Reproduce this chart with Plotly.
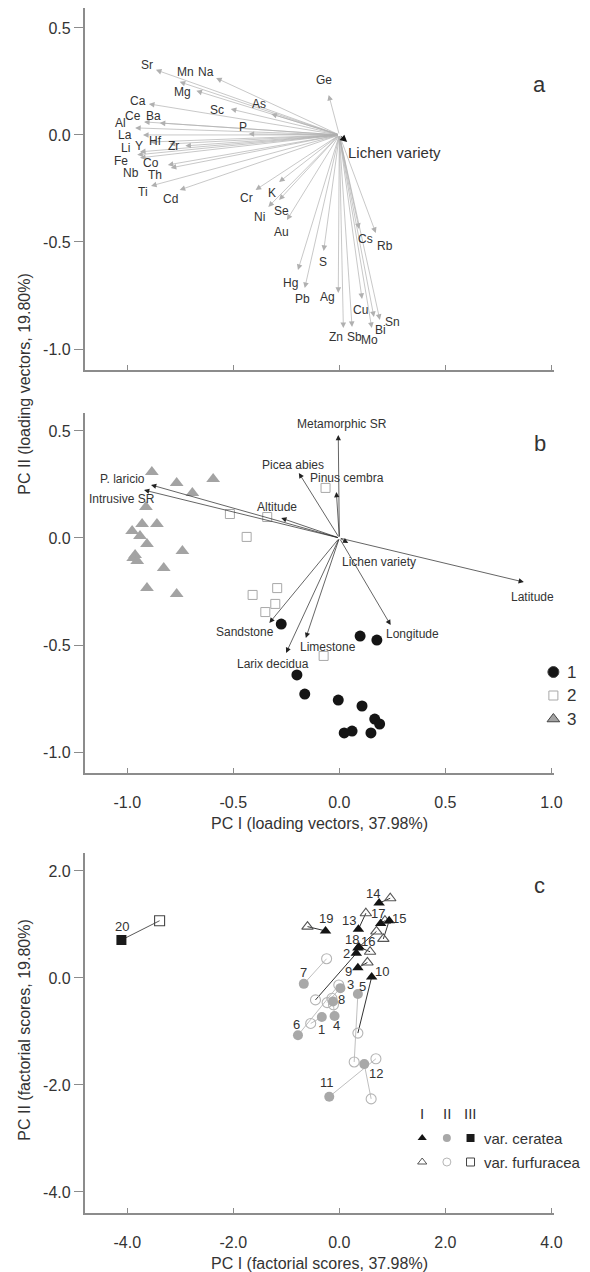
import plotly.graph_objects as go

FONT = "Liberation Sans, Arial, sans-serif"
TXT = "#333333"
AXC = "#8c8c8c"
W, H = 590, 1272

# ---------------- panel a: element loading vectors ----------------
elements = ["Sr", "Mn", "Na", "Mg", "As", "Ca", "Sc", "Ce", "Ba", "Al", "P", "La", "Li", "Y",
            "Hf", "Zr", "Fe", "Nb", "Co", "Th", "Ti", "Cd", "Cr", "K", "Ni", "Se", "Au", "Hg",
            "Pb", "S", "Ag", "Zn", "Sb", "Mo", "Bi", "Sn", "Cu", "Cs", "Rb", "Ge"]
elem_pc1 = [-0.865, -0.753, -0.581, -0.674, -0.321, -0.898, -0.512, -0.921, -0.847, -0.963,
            -0.428, -0.926, -0.940, -0.893, -0.800, -0.726, -0.953, -0.940, -0.809, -0.795,
            -0.888, -0.753, -0.395, -0.284, -0.335, -0.284, -0.247, -0.195, -0.163, -0.074,
            -0.005, 0.019, 0.060, 0.153, 0.163, 0.191, 0.107, 0.093, 0.172, -0.050]
elem_pc2 = [0.304, 0.248, 0.266, 0.206, 0.098, 0.145, 0.121, 0.061, 0.056, 0.033,
            0.005, 0.000, -0.079, -0.033, -0.042, -0.051, -0.093, -0.107, -0.140, -0.154,
            -0.238, -0.257, -0.257, -0.220, -0.336, -0.304, -0.397, -0.631, -0.715, -0.542,
            -0.738, -0.902, -0.897, -0.902, -0.850, -0.864, -0.766, -0.439, -0.458, 0.187]
lichen_a = [0.037, -0.033]

# ---------------- panel b: environmental loading vectors ----------------
variables = ["Metamorphic SR", "Picea abies", "Pinus cembra", "Altitude", "P. laricio",
             "Intrusive SR", "Lichen variety", "Latitude", "Longitude", "Sandstone",
             "Limestone", "Larix decidua"]
var_pc1 = [-0.005, -0.191, -0.014, -0.274, -0.888, -0.921, 0.042, 0.870, 0.242, -0.330, -0.158, -0.251]
var_pc2 = [0.481, 0.304, 0.215, 0.093, 0.248, 0.224, -0.023, -0.206, -0.407, -0.397, -0.467, -0.537]

grp1_pc1 = [-0.274, 0.098, 0.177, -0.200, -0.163, -0.005, 0.107, 0.167, 0.190, 0.149, 0.060, 0.023]
grp1_pc2 = [-0.402, -0.458, -0.477, -0.640, -0.729, -0.757, -0.785, -0.846, -0.869, -0.911, -0.902, -0.911]
grp2_pc1 = [-0.516, -0.340, -0.437, -0.065, -0.409, -0.293, -0.302, -0.349, -0.074]
grp2_pc2 = [0.112, 0.098, 0.005, 0.234, -0.266, -0.234, -0.308, -0.346, -0.551]
grp3_pc1 = [-0.884, -0.767, -0.693, -0.595, -0.912, -0.930, -0.860, -0.977, -0.940, -0.907,
            -0.740, -0.963, -0.972, -0.953, -0.828, -0.907, -0.767]
grp3_pc2 = [0.308, 0.257, 0.210, 0.276, 0.145, 0.065, 0.065, 0.033, 0.009, -0.028,
            -0.061, -0.079, -0.093, -0.107, -0.140, -0.234, -0.262]

# ---------------- panel c: factorial scores per sampling site ----------------
sites = list(range(1, 21))
# group of the ceratea sample (filled marker, connecting line) and of the furfuracea sample
cer_group = ["II", "I", "II", "II", "II", "II", "II", "II", "I", "I",
             "II", "II", "I", "I", "I", "I", "I", "I", "I", "III"]
fur_group = ["II", "II", "II", "II", "II", "II", "II", "II", "I", "II",
             "II", "II", "I", "I", "I", "I", "I", "I", "I", "III"]
cer_pc1 = [-0.33, 0.32, 0.02, -0.09, 0.35, -0.78, -0.67, -0.12, 0.35, 0.61,
           -0.19, 0.47, 0.36, 0.75, 0.94, 0.37, 0.78, 0.35, -0.26, -4.11]
cer_pc2 = [-0.73, 0.46, -0.19, -0.71, -0.30, -1.07, -0.11, -0.44, 0.19, 0.02,
           -2.22, -1.61, 0.91, 1.40, 1.07, 0.58, 1.02, 0.56, 0.88, 0.71]
fur_pc1 = [-0.54, -0.45, -0.23, -0.11, 0.28, -0.01, -0.24, -0.14, 0.53, 0.35,
           0.69, 0.60, 0.50, 0.96, 0.83, 0.58, 0.86, 0.70, -0.60, -3.39]
fur_pc2 = [-0.85, -0.41, -0.46, -0.50, -1.57, -0.13, 0.36, -0.38, 0.29, -1.03,
           -1.51, -2.26, 1.21, 1.49, 0.73, 0.49, 1.07, 0.87, 0.96, 1.07]

# label placement (pixel offsets from the arrow tip / marker)
elem_shift = {
    "Sr": (-9, 5), "Mn": (6, 10), "Na": (-10, 6), "Mg": (-14, -1), "As": (-12, 10),
    "Ca": (-11, 3), "Sc": (-14, -1), "Ce": (-11, 6), "Ba": (-6, 7), "Al": (-15, 5),
    "P": (-6, 7), "La": (-18, 0), "Li": (-14, 4), "Y": (-11, -4), "Hf": (-14, 3),
    "Zr": (-12, 0), "Fe": (-16, -6), "Nb": (-9, -15), "Co": (-17, 2), "Th": (-16, -7),
    "Ti": (-8, -6), "Cd": (-9, -9), "Cr": (-9, -8), "K": (-7, -11), "Ni": (-9, -10),
    "Se": (2, -11), "Au": (-5, -12), "Hg": (-7, -13), "Pb": (-2, -11), "S": (-1, -11),
    "Ag": (-11, -4), "Zn": (-7, -9), "Sb": (2, -10), "Mo": (-2, -12), "Bi": (7, -13),
    "Sn": (13, -2), "Cu": (-2, -11), "Cs": (6, -10), "Rb": (9, -13), "Ge": (-5, 15),
}
var_shift = {
    "Metamorphic SR": (4, 11), "Picea abies": (-6, 8), "Pinus cembra": (11, 14),
    "Altitude": (-4, 11), "P. laricio": (-29, 6), "Intrusive SR": (-22, -9),
    "Lichen variety": (31, -19), "Latitude": (9, -15), "Longitude": (22, -9),
    "Sandstone": (-24, -9), "Limestone": (22, -9), "Larix decidua": (-13, -11),
}
site_shift = {
    1: (0, -12), 2: (-10, 0), 3: (10, 4), 4: (2, -10), 5: (5, 8), 6: (-1, 11), 7: (0, 11),
    8: (9, 2), 9: (-9, -4), 10: (10, 5), 11: (-2, 14), 12: (12, -9), 13: (-9, 9),
    14: (-6, 10), 15: (10, 2), 16: (9, 5), 17: (-3, 10), 18: (-6, 9), 19: (0, 12), 20: (1, 13),
}

fig = go.Figure()
ann = []

# ---- panel a ----
for name, x, y in zip(elements, elem_pc1, elem_pc2):
    ann.append(dict(x=x, y=y, ax=0, ay=0, xref="x", yref="y", axref="x", ayref="y",
                    text="", showarrow=True, arrowhead=2, arrowsize=1.6, arrowwidth=0.7,
                    arrowcolor="#b0b0b0"))
    dx, dy = elem_shift[name]
    ann.append(dict(x=x, y=y, xref="x", yref="y", text=name, showarrow=False,
                    xshift=dx, yshift=dy, font=dict(size=12, color=TXT, family=FONT)))
ann.append(dict(x=lichen_a[0], y=lichen_a[1], ax=0, ay=0, xref="x", yref="y", axref="x",
                ayref="y", text="", showarrow=True, arrowhead=2, arrowsize=1.4,
                arrowwidth=1.0, arrowcolor="#111111"))
ann.append(dict(x=lichen_a[0], y=lichen_a[1], xref="x", yref="y", text="Lichen variety",
                showarrow=False, xanchor="left", xshift=-1, yshift=-10,
                font=dict(size=15, color=TXT, family=FONT)))

# ---- panel b ----
fig.add_trace(go.Scatter(x=grp3_pc1, y=grp3_pc2, mode="markers", xaxis="x2", yaxis="y2",
                         marker=dict(symbol="triangle-up", size=12, color="#a3a3a3"),
                         showlegend=False))
fig.add_trace(go.Scatter(x=grp2_pc1, y=grp2_pc2, mode="markers", xaxis="x2", yaxis="y2",
                         marker=dict(symbol="square-open", size=9, color="#a8a8a8",
                                     line=dict(width=1)), showlegend=False))
fig.add_trace(go.Scatter(x=grp1_pc1, y=grp1_pc2, mode="markers", xaxis="x2", yaxis="y2",
                         marker=dict(symbol="circle", size=11, color="#151515"),
                         showlegend=False))
for name, x, y in zip(variables, var_pc1, var_pc2):
    ann.append(dict(x=x, y=y, ax=0, ay=0, xref="x2", yref="y2", axref="x2", ayref="y2",
                    text="", showarrow=True, arrowhead=2, arrowsize=1.5, arrowwidth=0.7,
                    arrowcolor="#222222"))
    dx, dy = var_shift[name]
    ann.append(dict(x=x, y=y, xref="x2", yref="y2", text=name, showarrow=False,
                    xshift=dx, yshift=dy, font=dict(size=12, color=TXT, family=FONT)))

# ---- panel c ----
line_col = {"I": "#1a1a1a", "II": "#b8b8b8", "III": "#444444"}
fill_sym = {"I": ("triangle-up", "#141414"), "II": ("circle", "#a8a8a8"), "III": ("square", "#1a1a1a")}
open_sym = {"I": ("triangle-up-open", "#555555"), "II": ("circle-open", "#b5b5b5"),
            "III": ("square-open", "#444444")}
for g in ["II", "I", "III"]:
    idx = [i for i, s in enumerate(cer_group) if s == g]
    lx, ly = [], []
    for i in idx:
        lx += [cer_pc1[i], fur_pc1[i], None]
        ly += [cer_pc2[i], fur_pc2[i], None]
    fig.add_trace(go.Scatter(x=lx, y=ly, mode="lines", xaxis="x3", yaxis="y3",
                             line=dict(color=line_col[g], width=0.9), showlegend=False))
for g in ["II", "I", "III"]:
    idx = [i for i, s in enumerate(fur_group) if s == g]
    sym, col = open_sym[g]
    fig.add_trace(go.Scatter(x=[fur_pc1[i] for i in idx], y=[fur_pc2[i] for i in idx],
                             mode="markers", xaxis="x3", yaxis="y3",
                             marker=dict(symbol=sym, size=10, color=col, line=dict(width=1.1)),
                             showlegend=False))
for g in ["II", "I", "III"]:
    idx = [i for i, s in enumerate(cer_group) if s == g]
    sym, col = fill_sym[g]
    fig.add_trace(go.Scatter(x=[cer_pc1[i] for i in idx], y=[cer_pc2[i] for i in idx],
                             mode="markers", xaxis="x3", yaxis="y3",
                             marker=dict(symbol=sym, size=10, color=col), showlegend=False))
for i, s in enumerate(sites):
    dx, dy = site_shift[s]
    ann.append(dict(x=cer_pc1[i], y=cer_pc2[i], xref="x3", yref="y3", text=str(s),
                    showarrow=False, xshift=dx, yshift=dy,
                    font=dict(size=13, color=TXT, family=FONT)))

# ---- legend keys drawn on a full-page pixel axis ----
leg_b = [("1", "circle", "#151515", 11), ("2", "square-open", "#a8a8a8", 9),
         ("3", "triangle-up", "#a3a3a3", 11)]
for k, (lab, sym, col, sz) in enumerate(leg_b):
    yy = 672 + 23.5 * k
    fig.add_trace(go.Scatter(x=[561], y=[yy], mode="markers", xaxis="x4", yaxis="y4",
                             marker=dict(symbol=sym, size=sz, color=col, line=dict(width=1)),
                             showlegend=False))
    ann.append(dict(x=573, y=yy, xref="x4", yref="y4", text=lab, showarrow=False,
                    xanchor="left", font=dict(size=17, color=TXT, family=FONT)))

leg_cols = [428, 453, 477]
for gi, g in enumerate(["I", "II", "III"]):
    ann.append(dict(x=leg_cols[gi], y=1113, xref="x4", yref="y4", text=g, showarrow=False,
                    font=dict(size=15, color=TXT, family=FONT)))
    sym, col = fill_sym[g]
    fig.add_trace(go.Scatter(x=[leg_cols[gi]], y=[1138], mode="markers", xaxis="x4", yaxis="y4",
                             marker=dict(symbol=sym, size=8, color=col), showlegend=False))
    sym, col = open_sym[g]
    fig.add_trace(go.Scatter(x=[leg_cols[gi]], y=[1162], mode="markers", xaxis="x4", yaxis="y4",
                             marker=dict(symbol=sym, size=8, color=col, line=dict(width=1)),
                             showlegend=False))
ann.append(dict(x=489, y=1138, xref="x4", yref="y4", text="var. ceratea", showarrow=False,
                xanchor="left", font=dict(size=15, color=TXT, family=FONT)))
ann.append(dict(x=489, y=1162, xref="x4", yref="y4", text="var. furfuracea", showarrow=False,
                xanchor="left", font=dict(size=15, color=TXT, family=FONT)))

# ---- panel letters and axis titles ----
for letter, yy in [("a", 84), ("b", 443), ("c", 885)]:
    ann.append(dict(x=547, y=yy, xref="x4", yref="y4", text=letter, showarrow=False,
                    font=dict(size=22, color=TXT, family=FONT)))
ann.append(dict(x=324, y=823, xref="x4", yref="y4", text="PC I (loading vectors, 37.98%)",
                showarrow=False, font=dict(size=16, color=TXT, family=FONT)))
ann.append(dict(x=324, y=1263, xref="x4", yref="y4", text="PC I (factorial scores, 37.98%)",
                showarrow=False, font=dict(size=16, color=TXT, family=FONT)))
ann.append(dict(x=24, y=384, xref="x4", yref="y4", text="PC II (loading vectors, 19.80%)",
                showarrow=False, textangle=-90, font=dict(size=16, color=TXT, family=FONT)))
ann.append(dict(x=24, y=1030, xref="x4", yref="y4", text="PC II (factorial scores, 19.80%)",
                showarrow=False, textangle=-90, font=dict(size=16, color=TXT, family=FONT)))

xdom = [86 / W, 562 / W]


def ydom(top, bottom):
    return [1 - bottom / H, 1 - top / H]


common = dict(showline=True, linecolor=AXC, linewidth=2, showgrid=False, zeroline=False,
              tickcolor=AXC, tickwidth=1, tickfont=dict(size=16, color=TXT, family=FONT),
              fixedrange=True)
ab_x = dict(tickvals=[-1.0, -0.5, 0.0, 0.5, 1.0], ticktext=["-1.0", "-0.5", "0.0", "0.5", "1.0"],
            range=[-1.2, 1.014], ticks="inside", ticklen=5)
ab_y = dict(tickvals=[-1.0, -0.5, 0.0, 0.5], ticktext=["-1.0", "-0.5", "0.0", "0.5"],
            ticks="outside", ticklen=9)

fig.update_layout(
    width=W, height=H, margin=dict(l=0, r=0, t=0, b=0),
    paper_bgcolor="white", plot_bgcolor="rgba(0,0,0,0)", showlegend=False,
    font=dict(family=FONT, color=TXT),
    xaxis=dict(domain=xdom, anchor="y", showticklabels=False, **ab_x, **common),
    yaxis=dict(domain=ydom(8, 370), anchor="x", range=[-1.098, 0.593], **ab_y, **common),
    xaxis2=dict(domain=xdom, anchor="y2", ticklabelstandoff=14, **ab_x, **common),
    yaxis2=dict(domain=ydom(413, 773), anchor="x2", range=[-1.098, 0.584], **ab_y, **common),
    xaxis3=dict(domain=xdom, anchor="y3", range=[-4.8, 4.056], ticks="inside", ticklen=5,
                tickvals=[-4, -2, 0, 2, 4], ticktext=["-4.0", "-2.0", "0.0", "2.0", "4.0"],
                ticklabelstandoff=14, **common),
    yaxis3=dict(domain=ydom(853, 1213), anchor="x3", range=[-4.393, 2.336], ticks="outside",
                ticklen=9, tickvals=[-4, -2, 0, 2], ticktext=["-4.0", "-2.0", "0.0", "2.0"],
                **common),
    xaxis4=dict(domain=[0, 1], anchor="y4", range=[0, W], visible=False, fixedrange=True),
    yaxis4=dict(domain=[0, 1], anchor="x4", range=[H, 0], visible=False, fixedrange=True),
    annotations=ann,
)

fig.write_html("out.html")
